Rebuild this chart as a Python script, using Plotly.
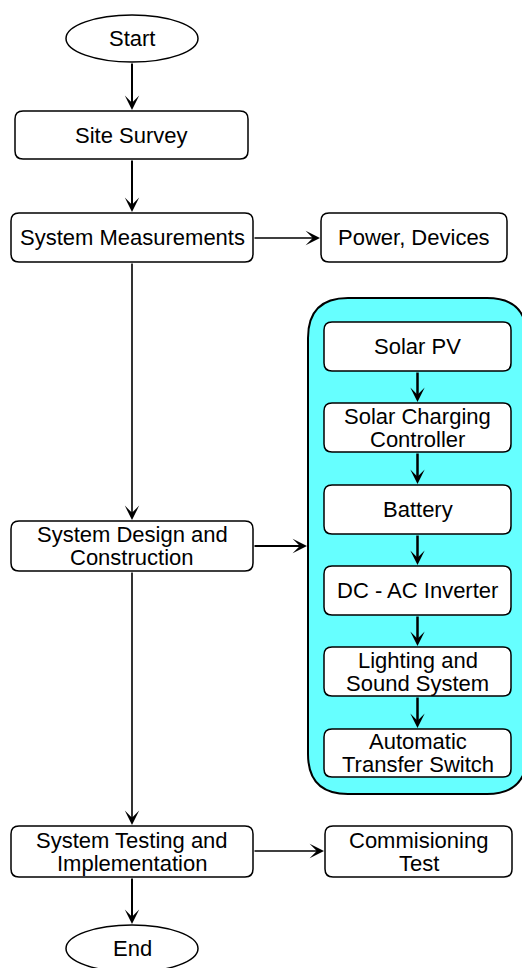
import plotly.graph_objects as go

# ---- content (labels) ----
main_labels = ["Start", "Site Survey", "System Measurements",
               "System Design and\nConstruction",
               "System Testing and\nImplementation", "End"]
side_labels = ["Power, Devices", "Commisioning\nTest"]
panel_labels = ["Solar PV", "Solar Charging\nController", "Battery",
                "DC - AC Inverter", "Lighting and\nSound System",
                "Automatic\nTransfer Switch"]

# ---- geometry (layout, in pixel units of the canvas) ----
W, H = 522, 968
main_geom = [  # x0, x1, y0, y1, kind
    (66, 198, 15, 62, "ellipse"),
    (15, 248, 111, 159, "box"),
    (11, 253, 213, 262, "box"),
    (11, 253, 521, 571, "box"),
    (11, 253, 826, 877, "box"),
    (66, 198, 925, 972, "ellipse"),
]
side_geom = [(321, 507, 213, 262), (325, 512, 826, 877)]
panel_box = (308, 527, 298, 794)
panel_geom_x = (324, 511)
panel_geom_y = [(322, 371), (403, 452), (485, 534), (566, 615), (647, 696), (729, 777)]

FONT = dict(family="Liberation Sans, Arial, sans-serif", size=22, color="black")
LINE_GAP = 23
HEAD = 2.4  # arrowhead scale (arrowwidth * arrowsize)


def rrect(x0, x1, y0, y1, r):
    return (f"M{x0+r},{y0} L{x1-r},{y0} Q{x1},{y0} {x1},{y0+r} "
            f"L{x1},{y1-r} Q{x1},{y1} {x1-r},{y1} L{x0+r},{y1} "
            f"Q{x0},{y1} {x0},{y1-r} L{x0},{y0+r} Q{x0},{y0} {x0+r},{y0} Z")


shapes = []
annotations = []


def add_text(label, cx, cy):
    lines = label.split("\n")
    n = len(lines)
    for i, ln in enumerate(lines):
        yy = cy + (i - (n - 1) / 2) * LINE_GAP
        annotations.append(dict(x=cx, y=yy, xref="x", yref="y", text=ln,
                                showarrow=False, font=FONT,
                                xanchor="center", yanchor="middle"))


def add_box(label, x0, x1, y0, y1, kind="box"):
    if kind == "ellipse":
        shapes.append(dict(type="circle", xref="x", yref="y", x0=x0, x1=x1,
                           y0=y0, y1=y1, fillcolor="white",
                           line=dict(color="black", width=1.5)))
    else:
        shapes.append(dict(type="path", xref="x", yref="y",
                           path=rrect(x0, x1, y0, y1, 8), fillcolor="white",
                           line=dict(color="black", width=1.5)))
    add_text(label, (x0 + x1) / 2, (y0 + y1) / 2)


def add_arrow(x0, y0, x1, y1, width=2):
    annotations.append(dict(x=x1, y=y1, ax=x0, ay=y0, xref="x", yref="y",
                            axref="x", ayref="y", text="", showarrow=True,
                            arrowhead=3, arrowsize=HEAD / width, arrowwidth=width,
                            arrowcolor="black", standoff=0, startstandoff=0))


# panel background
px0, px1, py0, py1 = panel_box
shapes.append(dict(type="path", xref="x", yref="y", path=rrect(px0, px1, py0, py1, 40),
                   fillcolor="#66FFFF", line=dict(color="black", width=2), layer="below"))

# main column
for lab, g in zip(main_labels, main_geom):
    add_box(lab, *g[:4], kind=g[4])
for lab, g in zip(side_labels, side_geom):
    add_box(lab, *g)
for lab, (y0, y1) in zip(panel_labels, panel_geom_y):
    add_box(lab, panel_geom_x[0], panel_geom_x[1], y0, y1)

cx = 132
# vertical arrows main column
add_arrow(cx, main_geom[0][3], cx, main_geom[1][2] - 1)
add_arrow(cx, main_geom[1][3], cx, main_geom[2][2] - 1)
add_arrow(cx, main_geom[2][3], cx, main_geom[3][2] - 1, width=1.6)
add_arrow(cx, main_geom[3][3], cx, main_geom[4][2] - 1, width=1.6)
add_arrow(cx, main_geom[4][3], cx, main_geom[5][2] - 1)
# horizontal arrows
add_arrow(main_geom[2][1], 238, side_geom[0][0] - 1, 238, width=1.6)
add_arrow(main_geom[3][1], 546, px0 - 1, 546)
add_arrow(main_geom[4][1], 851, side_geom[1][0] - 1, 851, width=1.6)
# panel arrows
pcx = (panel_geom_x[0] + panel_geom_x[1]) / 2
for (a0, a1), (b0, b1) in zip(panel_geom_y[:-1], panel_geom_y[1:]):
    add_arrow(pcx, a1, pcx, b0 - 1, width=2.5)

fig = go.Figure()
fig.update_layout(
    width=W, height=H, margin=dict(l=0, r=0, t=0, b=0),
    paper_bgcolor="white", plot_bgcolor="white",
    xaxis=dict(range=[0, W], visible=False, fixedrange=True),
    yaxis=dict(range=[H, 0], visible=False, fixedrange=True),
    shapes=shapes, annotations=annotations, showlegend=False,
)
fig.write_html("out.html", config=dict(displayModeBar=False),
               post_script="document.body.style.margin='0';document.body.style.overflow='hidden';")
